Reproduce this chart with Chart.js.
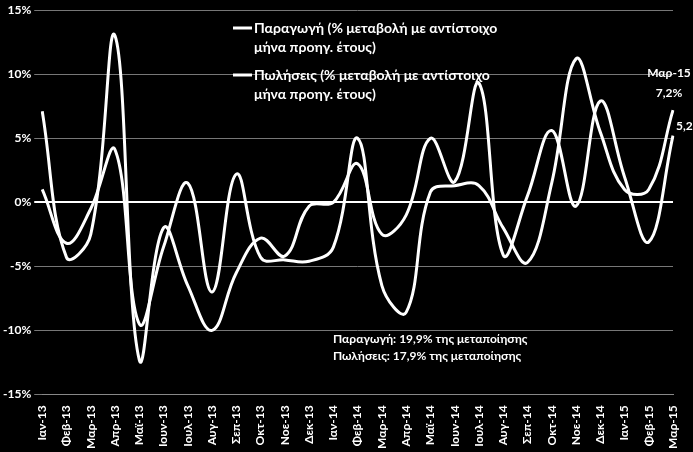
<!DOCTYPE html><html><head><meta charset="utf-8">
<script src="https://cdn.jsdelivr.net/npm/chart.js@4"></script>
<style>html,body{margin:0;background:#000;overflow:hidden;}</style></head><body><canvas id="c" width="693" height="452" style="width:693px;height:452px;display:block"></canvas>
<script>
const categories=["Ιαν-13","Φεβ-13","Μαρ-13","Απρ-13","Μαϊ-13","Ιουν-13","Ιουλ-13","Αυγ-13","Σεπ-13","Οκτ-13","Νοε-13","Δεκ-13","Ιαν-14","Φεβ-14","Μαρ-14","Απρ-14","Μαϊ-14","Ιουν-14","Ιουλ-14","Αυγ-14","Σεπ-14","Οκτ-14","Νοε-14","Δεκ-14","Ιαν-15","Φεβ-15","Μαρ-15"];
const production=[7.1,-4.3,-2.5,13.0,-12.3,-2.0,-6.5,-10.0,-5.5,-2.8,-4.2,-0.3,0.0,3.0,-2.5,-1.0,5.0,1.6,9.3,-4.1,0.5,5.6,-0.3,7.9,2.0,-3.1,5.2];
const sales=[1.0,-3.2,-0.5,4.1,-9.5,-3.5,1.5,-7.0,2.2,-4.3,-4.5,-4.6,-3.5,5.0,-6.5,-8.6,0.8,1.3,1.3,-2.0,-4.7,1.5,11.2,5.5,1.0,1.0,7.2];
const legendLabels=[["Παραγωγή (% μεταβολή με αντίστοιχο","μήνα προηγ. έτους)"],["Πωλήσεις (% μεταβολή με αντίστοιχο","μήνα προηγ. έτους)"]];
const notes=["Παραγωγή: 19,9% της μεταποίησης","Πωλήσεις: 17,9% της μεταποίησης"];
const F='Lato, "Open Sans", sans-serif';
const overlay={id:'ov',afterDraw(ch){const c=ch.ctx,x=ch.scales.x;c.save();c.fillStyle='#fff';c.strokeStyle='#fff';
c.font='bold 14px '+F;c.textBaseline='middle';
[[28,0],[75,1]].forEach(([yy,i])=>{c.lineWidth=3;c.beginPath();c.moveTo(233,yy);c.lineTo(252,yy);c.stroke();c.fillText(legendLabels[i][0],254,yy);c.fillText(legendLabels[i][1],254,yy+19);});
c.font='bold 12px '+F;c.fillText(notes[0],333,339);c.fillText(notes[1],333,356);
const xm=x.getPixelForValue(26);c.textAlign='center';c.fillText(categories[26],xm-4,73);c.fillText('7,2%',xm-4,93);
c.textAlign='left';c.fillText('5,2%',xm+3,126);c.restore();}};
new Chart(document.getElementById('c'),{type:'line',data:{labels:categories,datasets:[
{data:production,borderColor:'#fff',borderWidth:3,pointRadius:0,tension:0.4},
{data:sales,borderColor:'#fff',borderWidth:3,pointRadius:0,tension:0.4}]},
options:{responsive:false,animation:false,devicePixelRatio:1,layout:{padding:{top:8,right:20}},plugins:{legend:{display:false},tooltip:{enabled:false}},
scales:{x:{grid:{display:false},border:{color:'#888'},ticks:{color:'#fff',font:{family:F,weight:'bold',size:12},maxRotation:90,minRotation:90,autoSkip:false}},
y:{min:-15,max:15,border:{display:false},grid:{color:c=>c.tick.value===0?'#fff':'#777',lineWidth:c=>c.tick.value===0?2:1},ticks:{stepSize:5,color:'#fff',font:{family:F,weight:'bold',size:12},callback:v=>v+'%'}}}},plugins:[overlay]});
</script></body></html>
